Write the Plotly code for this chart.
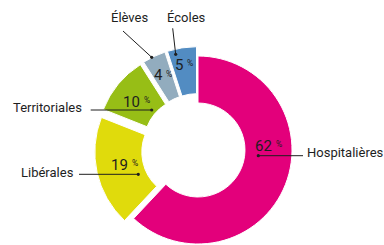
import plotly.graph_objects as go

# ---- data ----
labels = ["Hospitalières", "Libérales", "Territoriales", "Élèves", "Écoles"]
values = [62, 19, 10, 4, 5]
colors = ["#E3007B", "#E0DB0C", "#97BE16", "#92ACBE", "#528CC2"]
pulls = [0, 0.1, 0.1, 0.1, 0.1]

W, H = 384, 270          # figure taller than the 245px viewport: bottom is clipped
CX, CY, R = 198, 150, 94  # pie centre / radius in pixels
S = 2 * R * (1 + max(pulls))

def px(x, y):
    return x / W, 1 - y / H

fig = go.Figure(go.Pie(
    labels=labels, values=values, sort=False, direction="clockwise", rotation=0,
    hole=0.5, pull=pulls, textinfo="none", hoverinfo="skip",
    marker=dict(colors=colors, line=dict(color="white", width=1)),
    domain=dict(x=[(CX - S / 2) / W, (CX + S / 2) / W],
                y=[1 - (CY + S / 2) / H, 1 - (CY - S / 2) / H]),
    showlegend=False,
))

TXT = "#1e1e1e"
FONT = "Roboto"

# outside label positions (text centre, px) and leader lines (start, tip, px)
label_pos = [(345, 152), (47, 172), (47.5, 107), (129.5, 18), (186.5, 18)]
leaders = [((303, 155.7), (258.3, 155.7)),
           ((79, 174.3), (138.3, 174.3)),
           ((90.7, 110), (151.7, 110)),
           ((123, 31), (151.7, 57.3)),
           ((172.7, 28.3), (175.7, 54.3))]
# value text positions (px): number centre and "%" centre
num_pos = [(263.5, 146), (119.5, 165), (131.5, 102), (158.5, 74.5), (179, 64.5)]
pct_pos = [(279, 143.5), (135, 162.5), (147.3, 99.7), (168.7, 73.7), (190.3, 62.8)]

annotations = []
def add_text(text, x, y, size):
    xx, yy = px(x, y)
    annotations.append(dict(text=text, x=xx, y=yy, xref="paper", yref="paper",
                            showarrow=False, xanchor="center", yanchor="middle",
                            font=dict(family=FONT, size=size, color=TXT)))

for lab, (x, y) in zip(labels, label_pos):
    add_text(lab, x, y, 13)
for v, (x, y), (x2, y2) in zip(values, num_pos, pct_pos):
    add_text(str(v), x, y, 15)
    add_text("%", x2, y2, 8.5)

shapes = []
for (s, t) in leaders:
    x0, y0 = px(*s)
    x1, y1 = px(*t)
    shapes.append(dict(type="line", xref="paper", yref="paper", x0=x0, y0=y0, x1=x1, y1=y1,
                       line=dict(color=TXT, width=1)))
    r = 1.6
    a0, b0 = px(t[0] - r, t[1] + r)
    a1, b1 = px(t[0] + r, t[1] - r)
    shapes.append(dict(type="circle", xref="paper", yref="paper", x0=a0, y0=b0, x1=a1, y1=b1,
                       fillcolor=TXT, line=dict(width=0)))

fig.update_layout(width=W, height=H, margin=dict(l=0, r=0, t=0, b=0),
                  paper_bgcolor="white", plot_bgcolor="white",
                  annotations=annotations, shapes=shapes)

fig.write_html("out.html", config={"displayModeBar": False}, post_script=(
    "document.body.style.margin='0';"
    "document.body.style.overflow='hidden';"
    "document.documentElement.style.overflow='hidden';"))
